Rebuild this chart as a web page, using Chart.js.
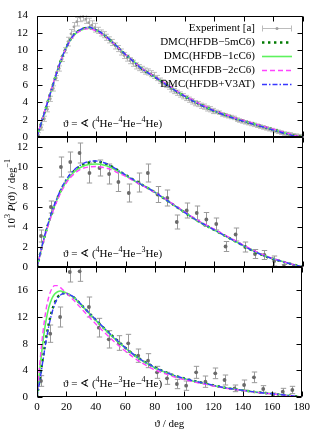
<!DOCTYPE html>
<html>
<head>
<meta charset="utf-8">
<script src="https://cdn.jsdelivr.net/npm/chart.js@4.4.0/dist/chart.umd.min.js"></script>
<style>
    html, body { margin: 0; padding: 0; background: #fff; }
    #wrap { position: relative; width: 314px; height: 432px; }
    #wrap canvas { position: absolute; left: 0; top: 0; }
</style>
</head>
<body>
<div id="wrap">
    <canvas id="p1" width="314" height="432"></canvas>
    <canvas id="p2" width="314" height="432"></canvas>
    <canvas id="p3" width="314" height="432"></canvas>
</div>
<script>
// ========================================
// DATA
// ========================================

const seriesLabels = ['Experiment [a]', 'DMC(HFDB\u22125mC6)', 'DMC(HFDB\u22121cC6)', 'DMC(HFDB\u22122cC6)', 'DMC(HFDB+V3AT)'];
const panelIsotopes = [['4', '4', '4'], ['4', '4', '3'], ['4', '3', '4']];
const panelMax = [14, 13, 19.5];

// theory grids (deg)
const curveAngles = [0, 5, 10, 15, 20, 25, 30, 35, 40, 45, 50, 55, 60, 65, 70, 75, 80, 85, 90,
    95, 100, 105, 110, 115, 120, 125, 130, 135, 140, 145, 150, 155, 160, 165, 170, 175, 180];
const curveAnglesFine = [0, 2, 4, 6, 8, 10, 12, 14, 16, 18, 20, 22, 25, 30, 35, 40, 45, 50, 55, 60,
    65, 70, 75, 80, 85, 90, 95, 100, 105, 110, 115, 120, 125, 130, 135, 140, 145, 150, 155, 160,
    165, 170, 175, 180];

// panel 1 : 4He-4He-4He
const hhh5m = [0, 2.8, 5.6, 8.3, 10.4, 11.8, 12.4, 12.6, 12.3, 11.8, 11.1, 10.3, 9.5, 8.8, 8.0, 7.4, 6.9, 6.35, 5.8,
    5.2, 4.7, 4.25, 3.8, 3.4, 3.0, 2.7, 2.4, 2.1, 1.85, 1.6, 1.35, 1.1, 0.85, 0.6, 0.35, 0.12, 0];
const hhh1c = [0, 2.8, 5.6, 8.3, 10.4, 11.75, 12.35, 12.55, 12.3, 11.8, 11.1, 10.3, 9.5, 8.8, 8.05, 7.4, 6.9, 6.35, 5.8,
    5.2, 4.7, 4.25, 3.8, 3.4, 3.0, 2.7, 2.4, 2.1, 1.85, 1.6, 1.35, 1.1, 0.85, 0.6, 0.35, 0.12, 0];
const hhh2c = [0, 2.85, 5.65, 8.3, 10.35, 11.7, 12.3, 12.5, 12.25, 11.75, 11.05, 10.3, 9.5, 8.8, 8.05, 7.45, 6.95, 6.4, 5.85,
    5.25, 4.75, 4.3, 3.85, 3.45, 3.05, 2.75, 2.45, 2.15, 1.9, 1.65, 1.4, 1.15, 0.9, 0.65, 0.4, 0.15, 0];
const hhhV3 = [0, 2.8, 5.55, 8.25, 10.4, 11.8, 12.45, 12.65, 12.35, 11.85, 11.1, 10.3, 9.5, 8.75, 8.0, 7.4, 6.9, 6.3, 5.75,
    5.2, 4.7, 4.2, 3.75, 3.35, 3.0, 2.65, 2.35, 2.05, 1.8, 1.55, 1.3, 1.05, 0.8, 0.55, 0.3, 0.1, 0];

const expAngles1 = [1, 3, 5, 7, 9, 11, 13, 15, 17, 19, 21, 23, 25, 27, 29, 31, 33, 35, 37, 39,
    41, 43, 45, 47, 49, 51, 53, 55, 57, 59, 61, 63, 65, 67, 69, 71, 73, 75, 77, 79,
    81, 83, 85, 87, 89, 91, 93, 95, 97, 99, 101, 103, 105, 107, 109, 111, 113, 115, 117, 119,
    121, 123, 125, 127, 129, 131, 133, 135, 137, 139, 141, 143, 145, 147, 149, 151, 153, 155, 157, 159,
    161, 163, 165, 167, 169, 171, 173, 175, 177, 179];
const exp1 = [0.2, 1.1, 2.1, 3.2, 4.4, 5.6, 6.8, 7.9, 9.0, 10.0, 11.0, 11.9, 12.7, 13.3, 13.8, 13.9, 13.6, 13.2, 12.9, 12.6,
    12.3, 12.0, 11.8, 11.5, 11.2, 10.9, 10.5, 10.2, 9.8, 9.4, 9.1, 8.8, 8.5, 8.2, 8.0, 7.8, 7.6, 7.5, 7.3, 7.1,
    6.8, 6.5, 6.3, 6.0, 5.8, 5.5, 5.3, 5.1, 4.9, 4.7, 4.5, 4.3, 4.1, 3.9, 3.8, 3.6, 3.5, 3.3, 3.2, 3.0,
    2.9, 2.8, 2.6, 2.5, 2.4, 2.3, 2.2, 2.0, 1.9, 1.8, 1.7, 1.6, 1.5, 1.4, 1.3, 1.2, 1.1, 1.0, 0.9, 0.8,
    0.7, 0.6, 0.5, 0.4, 0.35, 0.3, 0.2, 0.15, 0.1, 0.05];
const exp1Err = [0.3, 0.3, 0.3, 0.3, 0.3, 0.3, 0.3, 0.3, 0.3, 0.3, 0.5, 0.5, 0.5, 0.5, 0.5, 0.5, 0.5, 0.5, 0.5, 0.5,
    0.35, 0.35, 0.35, 0.35, 0.35, 0.35, 0.35, 0.35, 0.35, 0.35, 0.35, 0.35, 0.35, 0.35, 0.35, 0.35, 0.35, 0.35, 0.35, 0.35,
    0.3, 0.3, 0.3, 0.3, 0.3, 0.3, 0.3, 0.3, 0.3, 0.3, 0.3, 0.3, 0.3, 0.3, 0.3, 0.3, 0.3, 0.3, 0.3, 0.3,
    0.2, 0.2, 0.2, 0.2, 0.2, 0.2, 0.2, 0.2, 0.2, 0.2, 0.2, 0.2, 0.2, 0.2, 0.2, 0.2, 0.2, 0.2, 0.2, 0.2,
    0.2, 0.2, 0.2, 0.2, 0.2, 0.2, 0.2, 0.2, 0.2, 0.2];

// panel 2 : 4He-4He-3He
const hhe5m = [0, 3.0, 5.4, 7.3, 8.7, 9.6, 10.15, 10.45, 10.55, 10.4, 10.1, 9.65, 9.2, 8.75, 8.3, 7.9, 7.45, 6.95, 6.45,
    5.95, 5.45, 4.95, 4.5, 4.1, 3.7, 3.3, 2.9, 2.5, 2.1, 1.7, 1.35, 1.05, 0.8, 0.58, 0.38, 0.18, 0];
const hhe1c = [0, 2.95, 5.35, 7.25, 8.6, 9.5, 10.0, 10.25, 10.3, 10.2, 9.95, 9.55, 9.15, 8.7, 8.3, 7.9, 7.45, 6.95, 6.45,
    5.95, 5.45, 4.95, 4.5, 4.1, 3.7, 3.3, 2.9, 2.5, 2.1, 1.72, 1.37, 1.07, 0.82, 0.6, 0.39, 0.18, 0];
const hhe2c = [0, 2.9, 5.25, 7.1, 8.45, 9.3, 9.8, 10.0, 10.05, 9.95, 9.75, 9.4, 9.05, 8.65, 8.25, 7.85, 7.45, 6.98, 6.5,
    6.0, 5.5, 5.02, 4.57, 4.17, 3.77, 3.37, 2.97, 2.57, 2.17, 1.77, 1.42, 1.1, 0.84, 0.6, 0.4, 0.19, 0];
const heeV3 = [0, 3.05, 5.5, 7.4, 8.8, 9.7, 10.25, 10.55, 10.6, 10.45, 10.1, 9.65, 9.2, 8.75, 8.3, 7.9, 7.45, 6.95, 6.45,
    5.95, 5.45, 4.95, 4.5, 4.1, 3.7, 3.3, 2.9, 2.5, 2.1, 1.7, 1.35, 1.05, 0.8, 0.58, 0.38, 0.18, 0];

const expAngles2 = [2.7, 9.4, 16.2, 22.5, 28.8, 35.5, 42.3, 48.8, 55.1, 62.1, 68.7, 75.0, 81.6, 88.2,
    94.6, 101.3, 108.1, 114.6, 121.3, 127.6, 134.4, 140.9, 147.5, 153.9, 160.5, 167.1, 173.6];
const exp2 = [3.1, 6.0, 10.0, 10.5, 11.4, 9.4, 9.9, 9.3, 8.5, 7.4, 8.45, 9.4, 7.25, 6.9,
    4.5, 5.65, 5.4, 4.75, 4.3, 2.05, 3.25, 2.0, 1.3, 1.2, 0.6, 0.05, 0.02];
const exp2Err = [0.6, 0.6, 1.0, 1.0, 1.0, 1.0, 0.8, 1.0, 0.95, 0.9, 0.95, 0.9, 0.8, 0.8,
    0.7, 0.75, 0.7, 0.7, 0.6, 0.5, 0.65, 0.5, 0.45, 0.45, 0.5, 0.2, 0.15];

// panel 3 : 4He-3He-4He
const heh5m = [0, 2.9, 5.8, 8.6, 11.0, 12.8, 14.1, 14.95, 15.4, 15.55, 15.5, 15.3, 14.95,
    13.85, 12.7, 11.55, 10.45, 9.4, 8.4, 7.4, 6.5, 5.7, 5.05, 4.45, 3.95, 3.5, 3.1, 2.8, 2.5, 2.25,
    2.0, 1.75, 1.5, 1.3, 1.15, 1.0, 0.85, 0.7, 0.6, 0.48, 0.38, 0.25, 0.12, 0];
const heh1c = [0, 4.3, 8.2, 11.3, 13.4, 14.7, 15.45, 15.8, 15.9, 15.8, 15.6, 15.35, 14.9,
    13.8, 12.65, 11.5, 10.4, 9.3, 8.3, 7.35, 6.45, 5.65, 5.0, 4.4, 3.9, 3.45, 3.05, 2.75, 2.45, 2.2,
    1.95, 1.7, 1.5, 1.3, 1.15, 1.0, 0.85, 0.7, 0.6, 0.48, 0.38, 0.25, 0.12, 0];
const heh2c = [0, 5.2, 9.6, 12.9, 15.0, 16.2, 16.7, 16.7, 16.4, 16.0, 15.6, 15.15, 14.5,
    13.3, 12.1, 10.95, 9.85, 8.8, 7.8, 6.9, 6.05, 5.3, 4.65, 4.1, 3.65, 3.25, 2.9, 2.6, 2.35, 2.1,
    1.9, 1.65, 1.45, 1.25, 1.1, 0.95, 0.82, 0.68, 0.57, 0.46, 0.36, 0.24, 0.12, 0];
const hehV3 = [0, 2.6, 5.4, 8.2, 10.6, 12.5, 13.9, 14.8, 15.3, 15.5, 15.5, 15.35, 15.0,
    13.9, 12.7, 11.6, 10.5, 9.4, 8.4, 7.4, 6.5, 5.7, 5.05, 4.45, 3.95, 3.5, 3.1, 2.8, 2.5, 2.25,
    2.0, 1.75, 1.5, 1.3, 1.15, 1.0, 0.85, 0.7, 0.6, 0.48, 0.38, 0.25, 0.12, 0];

const expAngles3 = [2.7, 9.0, 15.7, 22.3, 29.0, 35.3, 42.0, 48.8, 55.6, 62.0, 68.8, 75.5, 81.6, 88.4,
    95.1, 101.4, 108.2, 114.5, 121.2, 127.5, 134.3, 140.8, 147.5, 153.8, 160.4, 167.1, 173.6];
const exp3 = [2.4, 9.5, 12.0, 18.75, 18.85, 13.5, 10.4, 8.65, 8.1, 8.05, 6.2, 5.45, 3.7, 2.8,
    1.95, 1.7, 3.7, 2.3, 3.55, 2.55, 1.3, 1.8, 2.95, 1.2, 0.3, 0.8, 1.05];
const exp3Err = [0.8, 1.3, 1.5, 1.5, 1.5, 1.5, 1.4, 1.3, 1.1, 1.35, 1.0, 1.05, 0.9, 0.9,
    0.7, 0.7, 0.9, 0.85, 0.8, 0.75, 0.5, 0.75, 0.8, 0.5, 0.3, 0.5, 0.55];

// ========================================
// STYLE
// ========================================

const FONT = '"Liberation Serif", "DejaVu Serif", serif';
const W = 314, H = 432;

const curveStyles = [
    { color: '#007a00', width: 2.4, dash: [2.4, 3.6], order: 4 },   // 5mC6
    { color: '#5df25d', width: 1.6, dash: [], order: 3 },           // 1cC6
    { color: '#ff44ff', width: 1.4, dash: [5, 3], order: 2 },       // 2cC6
    { color: '#3838ff', width: 1.4, dash: [5, 2, 1.5, 2], order: 1 } // V3AT
];

const panels = [
    { id: 'p1', top: 7, bottom: 137, xs: curveAngles, curves: [hhh5m, hhh1c, hhh2c, hhhV3],
      exp: { xs: expAngles1, ys: exp1, err: exp1Err, point: '#a0a0a0', bar: '#bcbcbc', r: 1.4, cap: 2.4 } },
    { id: 'p2', top: 137, bottom: 267, xs: curveAngles, curves: [hhe5m, hhe1c, hhe2c, heeV3],
      exp: { xs: expAngles2, ys: exp2, err: exp2Err, point: '#6a6a6a', bar: '#9a9a9a', r: 1.9, cap: 2.7 } },
    { id: 'p3', top: 267, bottom: 397, xs: curveAnglesFine, curves: [heh5m, heh1c, heh2c, hehV3],
      exp: { xs: expAngles3, ys: exp3, err: exp3Err, point: '#6a6a6a', bar: '#9a9a9a', r: 1.9, cap: 2.7 } }
];

function pts(xs, ys) {
    return xs.map((x, i) => ({ x: x, y: ys[i] }));
}

// texto com sobrescrito / italico
function drawRich(ctx, x, y, parts, size) {
    let cx = x;
    parts.forEach(([t, st]) => {
        const fs = st === 'sup' ? Math.round(size * 0.72) : size;
        ctx.font = (st === 'it' ? 'italic ' : '') + fs + 'px ' + FONT;
        ctx.fillText(t, cx, st === 'sup' ? y - size * 0.36 : y);
        cx += ctx.measureText(t).width;
    });
    return cx - x;
}

function richWidth(ctx, parts, size) {
    let w = 0;
    parts.forEach(([t, st]) => {
        const fs = st === 'sup' ? Math.round(size * 0.72) : size;
        ctx.font = (st === 'it' ? 'italic ' : '') + fs + 'px ' + FONT;
        w += ctx.measureText(t).width;
    });
    return w;
}

// ========================================
// PLUGINS
// ========================================

const errorBars = {
    id: 'errorBars',
    beforeDatasetsDraw(chart) {
        const { ctx, chartArea: a, scales: { x, y } } = chart;
        ctx.save();
        ctx.beginPath();
        ctx.rect(a.left, a.top, a.width, a.height);
        ctx.clip();
        chart.data.datasets.forEach(ds => {
            if (!ds.errors) return;
            ctx.strokeStyle = ds.barColor;
            ctx.lineWidth = 1;
            ds.data.forEach((p, i) => {
                const e = ds.errors[i];
                const px = Math.round(x.getPixelForValue(p.x)) + 0.5;
                const y0 = y.getPixelForValue(p.y - e);
                const y1 = y.getPixelForValue(p.y + e);
                ctx.beginPath();
                ctx.moveTo(px, y0); ctx.lineTo(px, y1);
                ctx.moveTo(px - ds.cap, y0); ctx.lineTo(px + ds.cap, y0);
                ctx.moveTo(px - ds.cap, y1); ctx.lineTo(px + ds.cap, y1);
                ctx.stroke();
            });
        });
        ctx.restore();
    }
};

function framePlugin(idx) {
    return {
        id: 'frame',
        afterDraw(chart) {
            const { ctx, chartArea: a, scales: { x, y } } = chart;
            const L = Math.round(a.left) + 0.5, R = Math.round(a.right) - 0.5;
            const T = Math.round(a.top) + 0.5, B = Math.round(a.bottom) - 0.5;
            const tl = 5;
            ctx.save();
            ctx.strokeStyle = '#000';
            ctx.lineWidth = 1;
            ctx.beginPath();
            ctx.rect(L, T, R - L, B - T);
            x.ticks.forEach(t => {
                const px = Math.round(x.getPixelForValue(t.value)) + 0.5;
                ctx.moveTo(px, B); ctx.lineTo(px, B - tl);
                ctx.moveTo(px, T); ctx.lineTo(px, T + tl);
            });
            y.ticks.forEach(t => {
                const py = Math.round(y.getPixelForValue(t.value)) + 0.5;
                ctx.moveTo(L, py); ctx.lineTo(L + tl, py);
                ctx.moveTo(R, py); ctx.lineTo(R - tl, py);
            });
            ctx.stroke();

            // rotulo do painel
            const iso = panelIsotopes[idx];
            ctx.fillStyle = '#000';
            ctx.textBaseline = 'middle';
            ctx.textAlign = 'left';
            drawRich(ctx, a.left + 26, a.bottom - 13, [
                ['\u03D1 = \u2222 (', ''], [iso[0], 'sup'], ['He\u2212', ''], [iso[1], 'sup'],
                ['He\u2212', ''], [iso[2], 'sup'], ['He)', '']
            ], 11);

            // titulo do eixo y (painel do meio)
            if (idx === 1) {
                const parts = [['10', ''], ['3', 'sup'], [' ', ''], ['P', 'it'], ['(\u03D1) / deg', ''], ['\u22121', 'sup']];
                const w = richWidth(ctx, parts, 11);
                ctx.save();
                ctx.translate(12, (a.top + a.bottom) / 2 - 8);
                ctx.rotate(-Math.PI / 2);
                drawRich(ctx, -w / 2, 0, parts, 11);
                ctx.restore();
            }

            // legenda (painel de cima)
            if (idx === 0) {
                ctx.font = '11px ' + FONT;
                ctx.textAlign = 'right';
                const textR = a.right - 48, s0 = a.right - 41, s1 = a.right - 11;
                chart.data.datasets.forEach((ds, i) => {
                    const ry = Math.round(a.top + 12 + i * 14.2) + 0.5;
                    ctx.fillStyle = '#000';
                    ctx.fillText(ds.label, textR, ry);
                    ctx.beginPath();
                    if (ds.errors) {
                        ctx.strokeStyle = ds.barColor;
                        ctx.lineWidth = 1;
                        ctx.setLineDash([]);
                        ctx.moveTo(s0, ry); ctx.lineTo(s1, ry);
                        ctx.moveTo(s0 + 0.5, ry - 3); ctx.lineTo(s0 + 0.5, ry + 3);
                        ctx.moveTo(s1 - 0.5, ry - 3); ctx.lineTo(s1 - 0.5, ry + 3);
                        ctx.stroke();
                        ctx.fillStyle = ds.pointBackgroundColor;
                        ctx.beginPath();
                        ctx.arc((s0 + s1) / 2, ry, 1.5, 0, Math.PI * 2);
                        ctx.fill();
                    } else {
                        ctx.strokeStyle = ds.borderColor;
                        ctx.lineWidth = ds.borderWidth;
                        ctx.setLineDash(ds.borderDash);
                        ctx.moveTo(s0, ry); ctx.lineTo(s1, ry);
                        ctx.stroke();
                    }
                });
                ctx.setLineDash([]);
            }
            ctx.restore();
        }
    };
}

// ========================================
// CHARTS
// ========================================

panels.forEach((p, idx) => {
    const isBottom = idx === panels.length - 1;
    const ex = p.exp;

    const datasets = [{
        label: seriesLabels[0],
        data: pts(ex.xs, ex.ys),
        errors: ex.err,
        barColor: ex.bar,
        cap: ex.cap,
        showLine: false,
        pointRadius: ex.r,
        pointBackgroundColor: ex.point,
        pointBorderWidth: 0,
        order: 5
    }];

    p.curves.forEach((ys, i) => {
        const st = curveStyles[i];
        datasets.push({
            label: seriesLabels[i + 1],
            data: pts(p.xs, ys),
            showLine: true,
            pointRadius: 0,
            borderColor: st.color,
            borderWidth: st.width,
            borderDash: st.dash,
            borderCapStyle: 'butt',
            cubicInterpolationMode: 'monotone',
            fill: false,
            clip: 0,
            order: st.order
        });
    });

    new Chart(document.getElementById(p.id), {
        type: 'scatter',
        data: { datasets: datasets },
        options: {
            responsive: false,
            animation: false,
            events: [],
            layout: {
                padding: { left: 0, right: 11, top: p.top, bottom: isBottom ? 0 : H - p.bottom }
            },
            plugins: {
                legend: { display: false },
                tooltip: { enabled: false }
            },
            scales: {
                x: {
                    type: 'linear',
                    min: 0,
                    max: 180,
                    ticks: {
                        stepSize: 20,
                        display: isBottom,
                        autoSkip: false,
                        maxRotation: 0,
                        padding: 4,
                        color: '#000',
                        font: { family: FONT, size: 11 }
                    },
                    grid: { display: false, drawTicks: false },
                    border: { display: false },
                    title: {
                        display: isBottom,
                        text: '\u03D1 / deg',
                        color: '#000',
                        padding: { top: 0, bottom: 1 },
                        font: { family: FONT, size: 11 }
                    },
                    afterFit: s => { s.height = isBottom ? 35 : 0; }
                },
                y: {
                    type: 'linear',
                    min: 0,
                    max: panelMax[idx],
                    ticks: {
                        stepSize: 2,
                        includeBounds: false,
                        padding: 9,
                        color: '#000',
                        font: { family: FONT, size: 11 }
                    },
                    grid: { display: false, drawTicks: false },
                    border: { display: false },
                    afterFit: s => { s.width = 37; }
                }
            }
        },
        plugins: [errorBars, framePlugin(idx)]
    });
});
</script>
</body>
</html>
